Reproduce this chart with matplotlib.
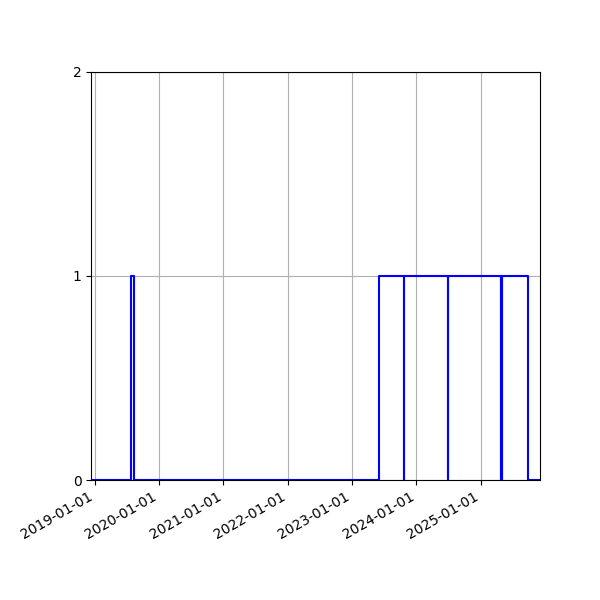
import matplotlib
matplotlib.use("Agg")
import matplotlib.pyplot as plt
import matplotlib.dates as mdates
import numpy as np
import pandas as pd

# change points of the step series (value holds until the next date)
change_dates = ['2018-12-13', '2019-07-24', '2019-08-11', '2023-06-04',
                '2023-10-20', '2023-10-22', '2024-06-27', '2024-06-29',
                '2025-04-24', '2025-04-26', '2025-04-30', '2025-05-02',
                '2025-09-27', '2025-12-02']
change_values = [0, 1, 0, 1, 0, 1, 0, 1, 0, 1, 0, 1, 0, 0]
y_ticks = [0, 1, 2]

x = pd.to_datetime(change_dates)

fig = plt.figure(figsize=(6, 6), dpi=100)
ax = fig.add_axes([0.152, 0.2, 0.748, 0.68])
ax.step(x, change_values, where='post', color='blue', linewidth=1.5)
ax.set_xlim(x[0], x[-1])
ax.set_ylim(0, 2)
ax.set_yticks(y_ticks)
ax.xaxis.set_major_locator(mdates.YearLocator())
ax.xaxis.set_major_formatter(mdates.DateFormatter('%Y-%m-%d'))
ax.grid(True)
for lbl in ax.get_xticklabels():
    lbl.set_rotation(30)
    lbl.set_ha('right')
fig.savefig('out.png', dpi=100)
